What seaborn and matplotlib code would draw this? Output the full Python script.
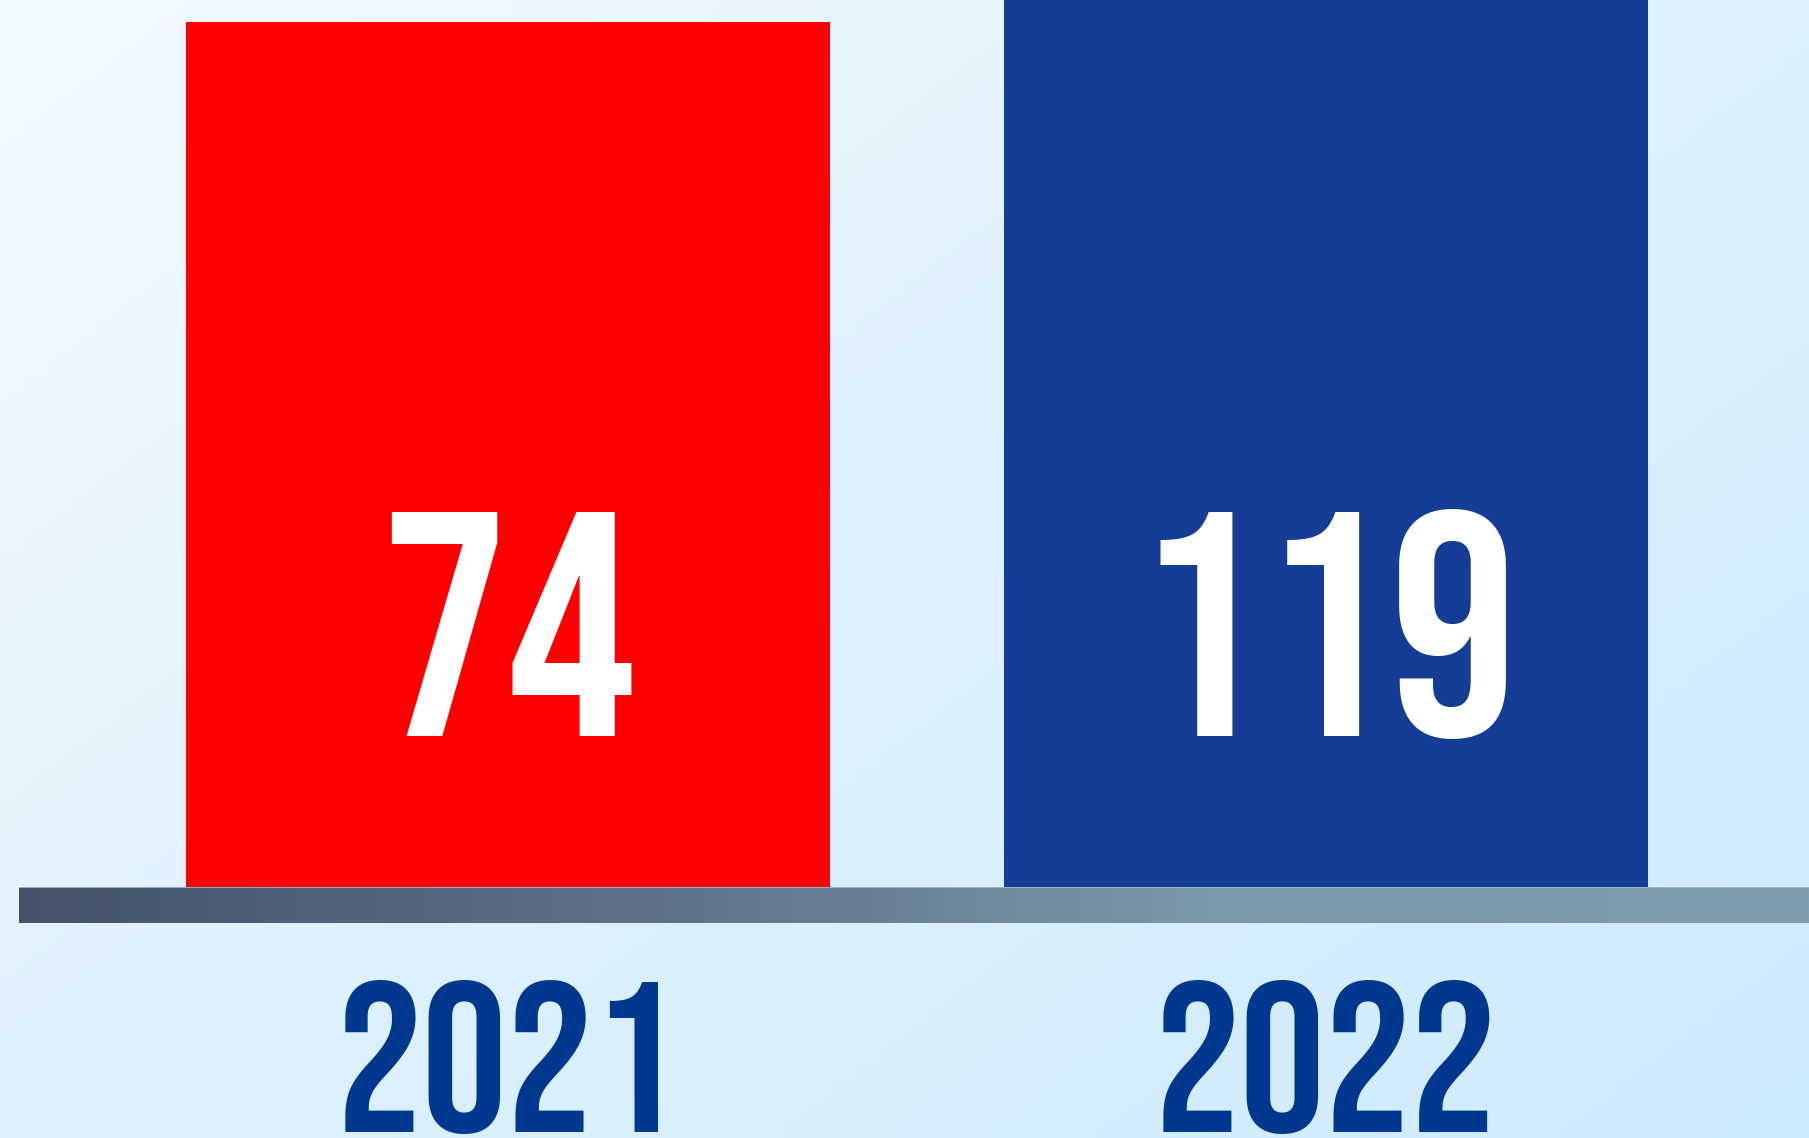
import matplotlib
matplotlib.use("Agg")
import matplotlib.pyplot as plt
import seaborn as sns
import numpy as np
import pandas as pd
from matplotlib.colors import LinearSegmentedColormap

# ---- data ----
years = ["2021", "2022"]
values = [74, 119]
bar_colors = ["#ff0000", "#153d96"]

sns.set_theme(style="white")
plt.rcParams['font.family'] = ['Bebas Neue', 'DejaVu Sans']

W, H = 1809, 1138
DPI = 100
fig = plt.figure(figsize=(W / DPI, H / DPI), dpi=DPI)

# background diagonal gradient
bg = fig.add_axes([0, 0, 1, 1], zorder=-2)
yy, xx = np.mgrid[0:1:200j, 0:1:300j]
t = xx * 0.55 + yy * 0.45
bg_cmap = LinearSegmentedColormap.from_list('bg', ['#f3faff', '#ddf1fd', '#cdeafc'])
bg.imshow(t, cmap=bg_cmap, aspect='auto', extent=[0, 1, 0, 1], origin='upper')
bg.axis('off')

# main axes (bars)
base_px = 887
ax = fig.add_axes([0, (H - base_px) / H, 1, base_px / H])
ax.set_facecolor('none')
df = pd.DataFrame({"year": years, "value": values})
sns.barplot(data=df, x="year", y="value", hue="year", palette=bar_colors,
            width=0.787, saturation=1, legend=False, ax=ax, linewidth=0)

ymax = 74 * base_px / 865
ax.set_ylim(0, ymax)
ax.set_xlim(-508 / 818, (W - 508) / 818)

label_y = ymax * (base_px - 736) / base_px
for i, v in enumerate(values):
    ax.text(i, label_y, str(v), ha='center', va='baseline',
            color='white', fontsize=230)

ax.set_xticks([0, 1])
ax.set_xticklabels(years, fontsize=154, color='#00388f')
for lbl in ax.get_xticklabels():
    lbl.set_verticalalignment('baseline')
ax.tick_params(axis='x', length=0, pad=(1132 - base_px) * 72 / DPI)
ax.tick_params(axis='y', left=False, labelleft=False)
ax.set_xlabel('')
ax.set_ylabel('')
for s in ax.spines.values():
    s.set_visible(False)

# base platform bar
bar_ax = fig.add_axes([19 / W, (H - 923) / H, (W - 19) / W, 36 / H], zorder=-1)
grad = np.linspace(0, 1, 256).reshape(1, -1)
base_cmap = LinearSegmentedColormap.from_list('base', ['#44536a', '#5d7086', '#7b98a8', '#7f9fae'])
bar_ax.imshow(grad, cmap=base_cmap, aspect='auto', extent=[0, 1, 0, 1])
bar_ax.axhline(1, color='#a7b8c4', lw=1.2)
bar_ax.set_xlim(0, 1)
bar_ax.set_ylim(0, 1)
bar_ax.axis('off')

fig.savefig('out.png', dpi=DPI)
